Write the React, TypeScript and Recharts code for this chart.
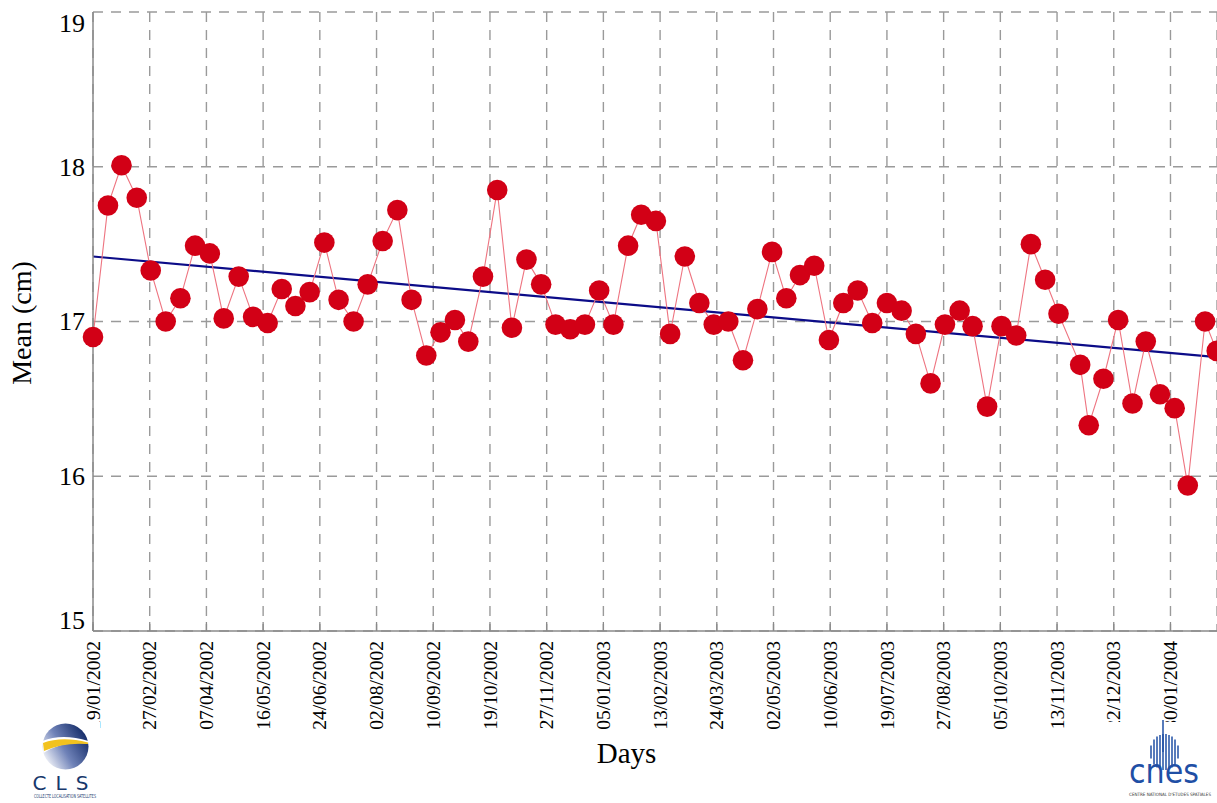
import React from 'react';
import { ComposedChart, Line, XAxis, YAxis, CartesianGrid } from 'recharts';

// Days since 19/01/2002 for each cycle mean
const cycleDays = [
  0, 10.3, 19.6, 30.1, 39.7, 50, 60.1, 70.2, 80.3, 89.9,
  100.2, 110.1, 120.1, 129.8, 139.2, 149, 159.1, 168.9, 179.2, 188.9,
  199.2, 209.3, 219.1, 229.2, 239, 248.9, 258.1, 268.2, 278, 288.1,
  298.1, 308.2, 318.1, 328.2, 338.3, 348.1, 357.9, 368, 377, 387.1,
  396.9, 407, 417, 426.9, 436.9, 447, 456.9, 467, 476.8, 486.2,
  496, 506.1, 516, 525.9, 535.9, 546, 556.1, 565.9, 576, 585.9,
  596, 604.9, 614.9, 624.8, 634.9, 645, 654.8, 664, 678.9, 684.8,
  694.9, 705, 714.9, 724, 733.8, 743.9, 752.9, 764.8, 772.8,
];

// Mean (cm)
const meanValues = [
  16.9, 17.75, 18.01, 17.8, 17.33, 17.0, 17.15, 17.49, 17.44, 17.02,
  17.29, 17.03, 16.99, 17.21, 17.1, 17.19, 17.51, 17.14, 17.0, 17.24,
  17.52, 17.72, 17.14, 16.78, 16.93, 17.01, 16.87, 17.29, 17.85, 16.96,
  17.4, 17.24, 16.98, 16.95, 16.98, 17.2, 16.98, 17.49, 17.69, 17.65,
  16.92, 17.42, 17.12, 16.98, 17.0, 16.75, 17.08, 17.45, 17.15, 17.3,
  17.36, 16.88, 17.12, 17.2, 16.99, 17.12, 17.07, 16.92, 16.6, 16.98,
  17.07, 16.97, 16.45, 16.97, 16.91, 17.5, 17.27, 17.05, 16.72, 16.33,
  16.63, 17.01, 16.47, 16.87, 16.53, 16.44, 15.94, 17.0, 16.81,
];

// Linear trend end points
const trendDays = [0, 773];
const trendValues = [17.42, 16.77];

const tickDays = [0, 39, 78, 117, 156, 195, 234, 273, 312, 351, 390, 429, 468, 507, 546, 585, 624, 663, 702, 741];
const tickLabels = [
  '19/01/2002', '27/02/2002', '07/04/2002', '16/05/2002', '24/06/2002',
  '02/08/2002', '10/09/2002', '19/10/2002', '27/11/2002', '05/01/2003',
  '13/02/2003', '24/03/2003', '02/05/2003', '10/06/2003', '19/07/2003',
  '27/08/2003', '05/10/2003', '13/11/2003', '22/12/2003', '30/01/2004',
];
const yTicks = [15, 16, 17, 18, 19];

const data = cycleDays.map((d, i) => ({ day: d, mean: meanValues[i] }));
const trendData = trendDays.map((d, i) => ({ day: d, trend: trendValues[i] }));

const FONT = '"Liberation Serif", "Times New Roman", serif';
const GRID = '#9a9a9a';
const AXIS = '#8a8a8a';

const XTick = (props: any) => {
  const { x, y, payload } = props;
  const idx = tickDays.indexOf(payload.value);
  const label = idx >= 0 ? tickLabels[idx] : '';
  return (
    <g>
      <line x1={x} x2={x} y1={y - 10} y2={y - 19} stroke={AXIS} strokeWidth={1.3} />
      <text
        transform={`translate(${x},${y}) rotate(-90)`}
        textAnchor="end"
        dy="0.34em"
        fontSize={19.5}
        fontFamily={FONT}
        fill="#000"
      >
        {label}
      </text>
    </g>
  );
};

const YTick = (props: any) => {
  const { x, y, payload } = props;
  const v = payload.value;
  const shift = v === 19 ? 11 : v === 15 ? -11 : 0;
  return (
    <text x={x} y={y + shift} dy="0.34em" textAnchor="end" fontSize={26} fontFamily={FONT} fill="#000">
      {v}
    </text>
  );
};

const stripeXs = [1151, 1154, 1157, 1160, 1163, 1166, 1169, 1172, 1175, 1178];

export default function App() {
  return (
    <div
      style={{
        position: 'absolute',
        left: 0,
        top: 0,
        width: 1217,
        height: 803,
        overflow: 'hidden',
        background: '#fff',
      }}
    >
      <div style={{ position: 'absolute', left: 0, top: 0 }}>
        <ComposedChart width={1217} height={803} data={data} margin={{ top: 12, right: 0, bottom: 0, left: 0 }}>
          <CartesianGrid stroke={GRID} strokeWidth={1.4} strokeDasharray="10 8" />
          <XAxis
            type="number"
            dataKey="day"
            domain={[0, 773]}
            ticks={tickDays}
            interval={0}
            height={172}
            tickSize={0}
            tickMargin={10}
            tickLine={false}
            axisLine={{ stroke: AXIS, strokeWidth: 1.5 }}
            tick={<XTick />}
          />
          <YAxis
            type="number"
            domain={[15, 19]}
            ticks={yTicks}
            width={93}
            tickSize={0}
            tickMargin={8}
            tickLine={false}
            axisLine={{ stroke: AXIS, strokeWidth: 1.5 }}
            tick={<YTick />}
          />
          <Line
            data={trendData}
            dataKey="trend"
            type="linear"
            stroke="#0c0c88"
            strokeWidth={2.2}
            dot={false}
            activeDot={false}
            isAnimationActive={false}
          />
          <Line
            dataKey="mean"
            type="linear"
            stroke="#ee7480"
            strokeWidth={1.1}
            dot={{ r: 10.3, fill: '#d20016', stroke: 'none' }}
            activeDot={false}
            isAnimationActive={false}
          />
        </ComposedChart>
      </div>
      <svg
        width={1217}
        height={803}
        style={{ position: 'absolute', left: 0, top: 0, pointerEvents: 'none' }}
      >
        <defs>
          <linearGradient id="clsSphere" x1="0" y1="0.8" x2="1" y2="0.2">
            <stop offset="0" stopColor="#ffffff" />
            <stop offset="0.45" stopColor="#6f82b8" />
            <stop offset="1" stopColor="#0b2360" />
          </linearGradient>
        </defs>
        <text
          transform="translate(31,323) rotate(-90)"
          textAnchor="middle"
          fontSize={28}
          fontFamily={FONT}
          fill="#000"
        >
          Mean (cm)
        </text>
        <text x={626.5} y={763} textAnchor="middle" fontSize={29} fontFamily={FONT} fill="#000">
          Days
        </text>

        {/* CLS logo */}
        <rect x={30} y={722} width={70} height={81} fill="#fff" />
        <circle cx={65.5} cy={746.5} r={23} fill="url(#clsSphere)" />
        <path d="M42.5,741 Q62,733 88.5,741 L88.5,744 Q64,740 43.5,753 Z" fill="#fff" />
        <path d="M43,743 Q62,736 88,742.5 L88,744 Q64,742 44,751 Z" fill="#f2c21e" />
        <text
          x={65}
          y={790}
          textAnchor="middle"
          fontSize={20}
          letterSpacing={9}
          fontFamily='"DejaVu Sans", sans-serif'
          fill="#17386c"
        >
          CLS
        </text>
        <text
          x={34}
          y={798}
          fontSize={5.5}
          textLength={62}
          lengthAdjust="spacingAndGlyphs"
          fontFamily='"DejaVu Sans", sans-serif'
          fill="#17386c"
        >
          COLLECTE LOCALISATION SATELLITES
        </text>

        {/* CNES logo */}
        <rect x={1105} y={722} width={112} height={81} fill="#fff" />
        {stripeXs.map((sx) => {
          const dx = (sx - 1164.5) / 14.5;
          const h = 18 * Math.sqrt(Math.max(0, 1 - dx * dx));
          return (
            <line
              key={sx}
              x1={sx}
              x2={sx}
              y1={752 - h}
              y2={752 + h}
              stroke="#1f4fa5"
              strokeWidth={1.5}
            />
          );
        })}
        <line x1={1163} x2={1163} y1={720} y2={752} stroke="#1f4fa5" strokeWidth={1.5} />
        <text
          x={1129}
          y={783}
          fontSize={34}
          textLength={70}
          lengthAdjust="spacingAndGlyphs"
          fontFamily='"DejaVu Sans", sans-serif'
          fill="#1f4fa5"
        >
          cnes
        </text>
        <text
          x={1211}
          y={796}
          textAnchor="end"
          fontSize={4.5}
          fontFamily='"Liberation Sans Narrow", "DejaVu Sans Condensed", sans-serif'
          fill="#333"
        >
          CENTRE NATIONAL D'ETUDES SPATIALES
        </text>
      </svg>
    </div>
  );
}
